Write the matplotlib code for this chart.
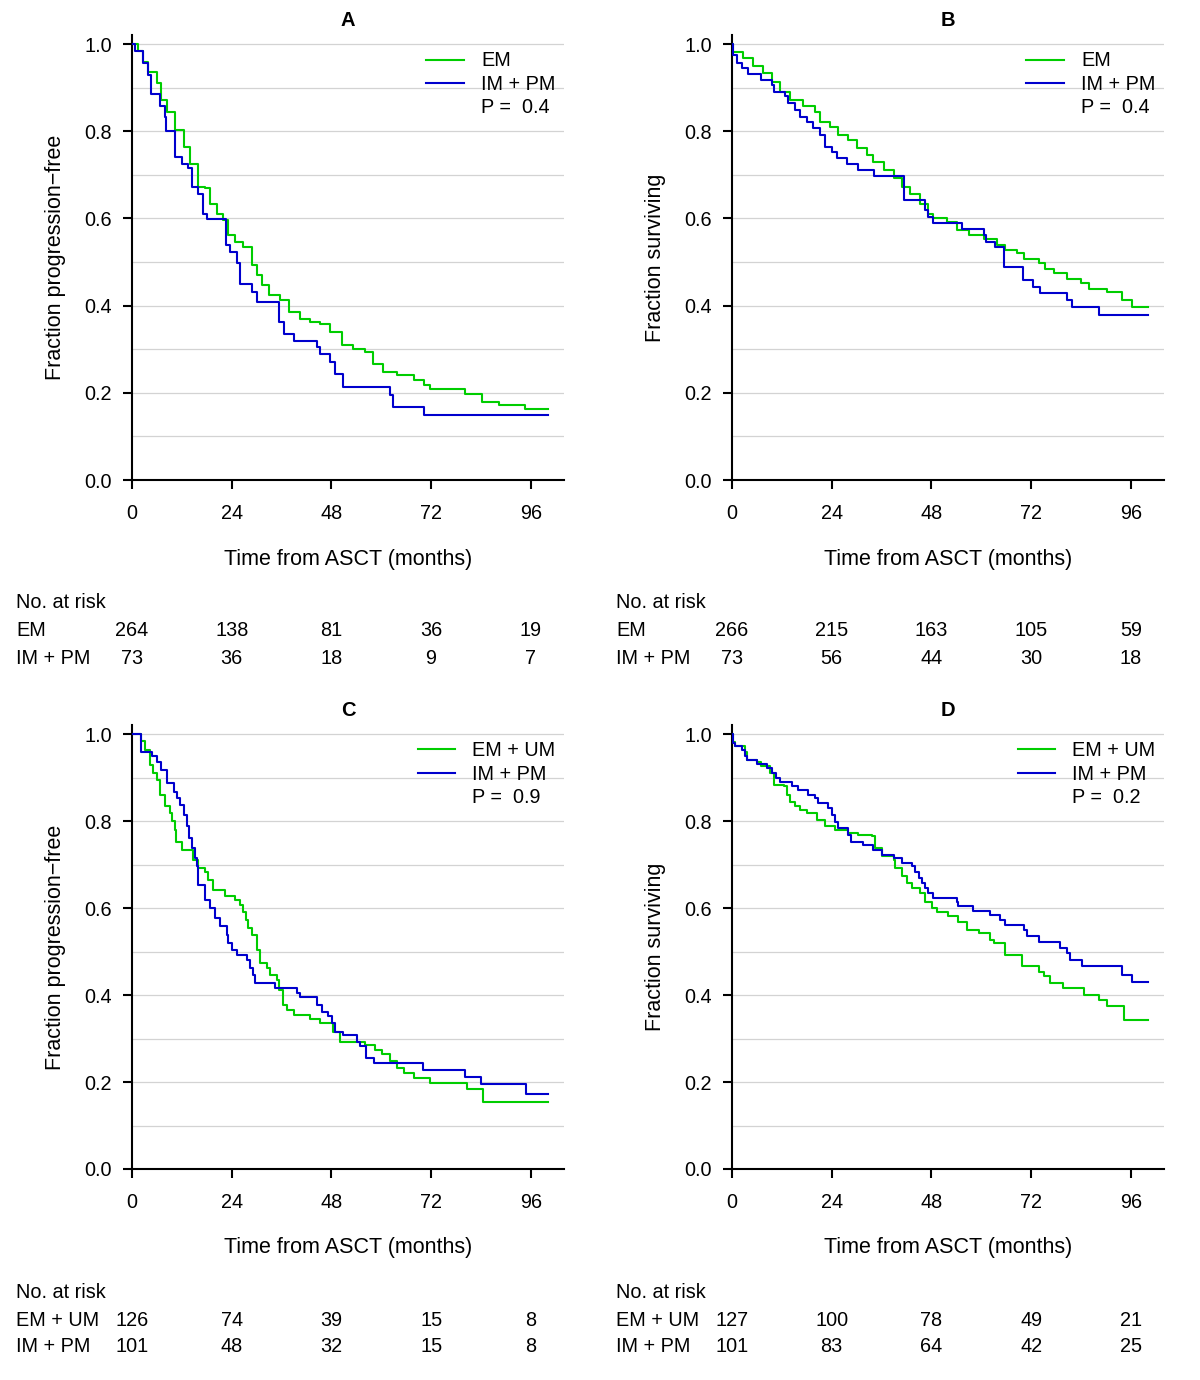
import matplotlib
matplotlib.use("Agg")
import matplotlib.pyplot as plt
from matplotlib.lines import Line2D
from matplotlib.ticker import MultipleLocator
from matplotlib.transforms import blended_transform_factory

plt.rcParams["font.family"] = ["Liberation Sans", "DejaVu Sans"]

GREEN = "#00CD00"
BLUE = "#0000CD"
GRID = "#D3D3D3"

# ── Panel A: progression-free, EM vs IM + PM ──
a_em_t = [0, 1.5, 2.7, 3.9, 5.9, 7.1, 8.4, 10.4, 12.4, 14.0, 16.0, 17.6, 18.8, 20.4, 22.0, 23.2,
          24.8, 26.8, 28.8, 30.0, 31.2, 32.9, 35.7, 37.7, 40.5, 42.9, 45.3, 47.7, 50.5, 53.3,
          56.1, 58.1, 60.5, 63.8, 67.8, 70.2, 71.8, 80.2, 84.2, 88.3, 94.7, 100.1]
a_em_s = [1.0, 0.985, 0.96, 0.937, 0.91, 0.872, 0.845, 0.803, 0.765, 0.726, 0.673, 0.669, 0.634,
          0.611, 0.596, 0.562, 0.546, 0.535, 0.493, 0.47, 0.447, 0.424, 0.412, 0.385, 0.37, 0.362,
          0.359, 0.339, 0.309, 0.301, 0.293, 0.267, 0.248, 0.24, 0.23, 0.217, 0.209, 0.198, 0.179,
          0.171, 0.162, 0.162]
a_ip_t = [0, 0.7, 2.7, 3.9, 4.5, 6.7, 7.9, 8.3, 10.4, 12.0, 13.6, 14.4, 16.0, 17.0, 18.1, 22.7,
          23.6, 25.2, 26.0, 28.8, 30.0, 35.3, 36.5, 38.9, 44.5, 45.3, 47.7, 48.9, 50.8, 62.2,
          62.8, 70.4, 100.1]
a_ip_s = [1.0, 0.985, 0.956, 0.93, 0.885, 0.857, 0.834, 0.8, 0.742, 0.726, 0.715, 0.673, 0.657,
          0.611, 0.598, 0.539, 0.523, 0.497, 0.45, 0.431, 0.408, 0.362, 0.336, 0.32, 0.305, 0.29,
          0.27, 0.244, 0.213, 0.194, 0.167, 0.15, 0.15]

# ── Panel B: survival, EM vs IM + PM ──
b_em_t = [0, 0.3, 2.7, 5.1, 7.5, 9.6, 11.6, 14.0, 17.2, 20.0, 21.2, 23.6, 25.6, 28.0, 30.0, 32.4,
          34.0, 36.5, 38.9, 40.9, 42.9, 45.3, 47.3, 48.5, 51.7, 54.1, 57.0, 60.6, 63.8, 65.8,
          68.6, 70.2, 73.8, 75.4, 77.4, 80.6, 83.9, 85.9, 90.3, 93.9, 96.3, 100.1]
b_em_s = [1.0, 0.983, 0.968, 0.949, 0.933, 0.914, 0.891, 0.872, 0.857, 0.845, 0.822, 0.811, 0.792,
          0.78, 0.761, 0.746, 0.73, 0.711, 0.692, 0.673, 0.657, 0.634, 0.611, 0.6, 0.592, 0.573,
          0.562, 0.554, 0.539, 0.527, 0.52, 0.508, 0.497, 0.485, 0.474, 0.462, 0.451, 0.439,
          0.431, 0.412, 0.398, 0.398]
b_ip_t = [0, 0.3, 1.1, 2.3, 3.9, 7.1, 9.6, 10.0, 12.8, 13.6, 15.2, 16.4, 18.0, 19.6, 21.2, 22.4,
          24.0, 25.2, 27.6, 30.4, 34.1, 41.3, 46.5, 47.3, 48.3, 55.3, 60.6, 61.1, 63.4, 65.5,
          70.0, 72.4, 74.1, 80.6, 81.9, 88.3, 100.1]
b_ip_s = [1.0, 0.975, 0.956, 0.945, 0.932, 0.918, 0.907, 0.891, 0.88, 0.864, 0.849, 0.834, 0.822,
          0.807, 0.792, 0.765, 0.753, 0.738, 0.726, 0.711, 0.698, 0.642, 0.619, 0.604, 0.589,
          0.575, 0.562, 0.546, 0.535, 0.489, 0.458, 0.443, 0.428, 0.412, 0.397, 0.378, 0.378]

# ── Panel C: progression-free, EM + UM vs IM + PM ──
c_eu_t = [0, 2.1, 3.1, 4.3, 5.1, 5.9, 6.7, 7.95, 9.2, 9.7, 10.4, 10.6, 12.0, 14.8, 16.0, 17.6,
          18.4, 19.6, 22.4, 24.8, 26.0, 26.8, 27.5, 28.0, 28.8, 30.0, 30.8, 32.5, 33.3, 34.9,
          35.5, 36.3, 37.3, 38.9, 42.9, 45.3, 48.5, 50.1, 56.1, 58.5, 60.2, 62.2, 63.8, 65.4,
          67.8, 71.8, 80.6, 84.5, 100.1]
c_eu_s = [1.0, 0.985, 0.964, 0.929, 0.91, 0.895, 0.861, 0.834, 0.818, 0.8, 0.78, 0.753, 0.734,
          0.711, 0.692, 0.684, 0.665, 0.642, 0.627, 0.619, 0.608, 0.592, 0.573, 0.554, 0.539,
          0.504, 0.474, 0.462, 0.447, 0.435, 0.412, 0.378, 0.366, 0.355, 0.345, 0.336, 0.316,
          0.293, 0.286, 0.274, 0.264, 0.248, 0.232, 0.221, 0.209, 0.198, 0.184, 0.154, 0.154]
c_ip_t = [0, 2.1, 4.7, 5.9, 7.1, 8.4, 10.0, 10.9, 11.6, 12.4, 13.2, 13.8, 14.4, 15.2, 15.6, 16.0,
          17.6, 18.8, 20.0, 21.2, 22.8, 23.2, 24.0, 25.2, 27.6, 28.4, 29.1, 29.5, 34.5, 39.7,
          40.5, 44.5, 45.7, 47.3, 48.1, 48.9, 50.9, 54.1, 54.9, 56.4, 58.3, 70.0, 80.1, 84.0,
          94.9, 100.1]
c_ip_s = [1.0, 0.959, 0.949, 0.937, 0.918, 0.887, 0.868, 0.853, 0.838, 0.815, 0.788, 0.761, 0.738,
          0.715, 0.696, 0.654, 0.619, 0.6, 0.577, 0.558, 0.539, 0.52, 0.504, 0.493, 0.481, 0.462,
          0.447, 0.428, 0.416, 0.405, 0.395, 0.378, 0.362, 0.351, 0.336, 0.316, 0.307, 0.293,
          0.282, 0.255, 0.244, 0.228, 0.211, 0.195, 0.173, 0.173]

# ── Panel D: survival, EM + UM vs IM + PM ──
d_eu_t = [0, 0.3, 0.7, 3.1, 3.5, 5.9, 7.1, 9.2, 10.0, 12.4, 13.2, 14.0, 15.2, 16.4, 18.0, 20.4,
          22.4, 24.9, 28.0, 30.4, 33.7, 34.5, 36.1, 38.9, 39.3, 40.9, 42.1, 43.3, 45.3, 46.5,
          48.1, 49.3, 52.1, 54.5, 56.5, 59.4, 62.2, 63.0, 65.8, 69.8, 73.8, 75.0, 76.6, 79.8,
          84.7, 88.3, 90.3, 94.3, 100.1]
d_eu_s = [1.0, 0.983, 0.972, 0.96, 0.94, 0.937, 0.926, 0.91, 0.884, 0.88, 0.861, 0.845, 0.834,
          0.826, 0.818, 0.803, 0.788, 0.78, 0.772, 0.769, 0.765, 0.738, 0.719, 0.711, 0.692,
          0.673, 0.657, 0.646, 0.634, 0.615, 0.6, 0.592, 0.581, 0.569, 0.55, 0.543, 0.527, 0.52,
          0.493, 0.466, 0.454, 0.443, 0.428, 0.416, 0.401, 0.389, 0.374, 0.343, 0.343]
d_ip_t = [0, 0.3, 0.7, 2.3, 3.1, 3.5, 5.9, 8.4, 9.6, 10.7, 11.6, 14.4, 16.0, 18.4, 20.0, 20.8,
          23.2, 24.0, 24.8, 25.6, 28.0, 28.6, 31.6, 34.0, 36.1, 38.9, 40.9, 43.3, 44.1, 44.9,
          45.7, 46.5, 47.3, 48.3, 54.1, 54.5, 58.1, 62.2, 64.6, 65.8, 70.2, 71.0, 73.8, 79.0,
          80.6, 81.4, 84.3, 93.9, 96.3, 100.1]
d_ip_s = [1.0, 0.979, 0.972, 0.964, 0.949, 0.941, 0.931, 0.922, 0.91, 0.899, 0.891, 0.88, 0.872,
          0.861, 0.853, 0.841, 0.83, 0.815, 0.799, 0.784, 0.769, 0.753, 0.746, 0.734, 0.723,
          0.715, 0.703, 0.696, 0.684, 0.669, 0.657, 0.646, 0.634, 0.623, 0.615, 0.604, 0.594,
          0.585, 0.573, 0.562, 0.55, 0.535, 0.523, 0.508, 0.497, 0.481, 0.466, 0.447, 0.429, 0.429]

# ── Numbers at risk ──
risk_times = [0, 24, 48, 72, 96]
a_risk = [[264, 138, 81, 36, 19], [73, 36, 18, 9, 7]]
b_risk = [[266, 215, 163, 105, 59], [73, 56, 44, 30, 18]]
c_risk = [[126, 74, 39, 15, 8], [101, 48, 32, 15, 8]]
d_risk = [[127, 100, 78, 49, 21], [101, 83, 64, 42, 25]]

W, H = 1200, 1380
fig = plt.figure(figsize=(W / 100, H / 100), dpi=100, facecolor="white")


def panel(x0, y_top, y_zero, letter, ylabel, curves, groups, pval, risk):
    ax = fig.add_axes([x0 / W, 1 - y_zero / H, 432 / W, (y_zero - y_top) / H])
    ax.set_xlim(0, 104)
    ax.set_ylim(0, 1.021)
    ax.yaxis.set_major_locator(MultipleLocator(0.2))
    ax.yaxis.set_minor_locator(MultipleLocator(0.1))
    ax.set_xticks(risk_times)
    ax.grid(axis="y", which="both", color=GRID, linewidth=0.9, zorder=0)
    ax.set_axisbelow(True)
    for sp in ("top", "right"):
        ax.spines[sp].set_visible(False)
    for sp in ("left", "bottom"):
        ax.spines[sp].set_linewidth(1.5)
    ax.tick_params(axis="both", which="major", direction="out", length=6.5, width=1.5,
                   labelsize=14.3, colors="black")
    ax.tick_params(axis="y", which="major", pad=8)
    ax.tick_params(axis="x", which="major", pad=10.5)
    ax.tick_params(axis="y", which="minor", length=0)
    ax.yaxis.set_major_formatter(plt.FuncFormatter(lambda v, _: f"{v:.1f}"))

    handles = []
    for (t, s), col in zip(curves, (GREEN, BLUE)):
        ax.step(t, s, where="post", color=col, linewidth=1.5, zorder=3)
        handles.append(Line2D([], [], color=col, linewidth=1.5))
    handles.append(Line2D([], [], color="none"))
    ax.legend(handles, [groups[0], groups[1], f"P =  {pval}"], loc="upper right",
              bbox_to_anchor=(0.98, 0.963), frameon=False, fontsize=14.3,
              handlelength=1.9, handletextpad=0.85, labelspacing=0.22,
              borderaxespad=0, borderpad=0)

    ax.set_xlabel("Time from ASCT (months)", fontsize=15.5)
    ax.xaxis.label.set_va("center")
    ax.xaxis.set_label_coords(0.5, -79 / (y_zero - y_top))
    ax.set_ylabel(ylabel, fontsize=15.5)
    ax.yaxis.label.set_va("center")
    ax.yaxis.set_label_coords(-77 / 432, 0.5)

    tb = blended_transform_factory(ax.transAxes, fig.transFigure)
    ax.text(0.5, 1 - (y_top - 9) / H, letter, transform=tb, ha="center", va="baseline",
            fontsize=14.5, fontweight="bold")

    # number-at-risk table under the panel
    fig.text((x0 - 116) / W, 1 - (y_zero + 123) / H, "No. at risk", ha="left", va="center",
             fontsize=14.3)
    tr = blended_transform_factory(ax.transData, fig.transFigure)
    for k, (name, row) in enumerate(zip(groups, risk)):
        yy = 1 - (y_zero + 151 + 27 * k) / H
        fig.text((x0 - 116) / W, yy, name, ha="left", va="center", fontsize=14.3)
        for tt, n in zip(risk_times, row):
            ax.text(tt, yy, str(n), transform=tr, ha="center", va="center", fontsize=14.3,
                    clip_on=False)
    return ax


YLAB_PFS = "Fraction progression\u2212free"
YLAB_OS = "Fraction surviving"

panel(132, 35, 480, "A", YLAB_PFS, [(a_em_t, a_em_s), (a_ip_t, a_ip_s)],
      ["EM", "IM + PM"], "0.4", a_risk)
panel(732, 35, 480, "B", YLAB_OS, [(b_em_t, b_em_s), (b_ip_t, b_ip_s)],
      ["EM", "IM + PM"], "0.4", b_risk)
panel(132, 725, 1169, "C", YLAB_PFS, [(c_eu_t, c_eu_s), (c_ip_t, c_ip_s)],
      ["EM + UM", "IM + PM"], "0.9", c_risk)
panel(732, 725, 1169, "D", YLAB_OS, [(d_eu_t, d_eu_s), (d_ip_t, d_ip_s)],
      ["EM + UM", "IM + PM"], "0.2", d_risk)

fig.savefig("out.png", dpi=100, facecolor="white")
